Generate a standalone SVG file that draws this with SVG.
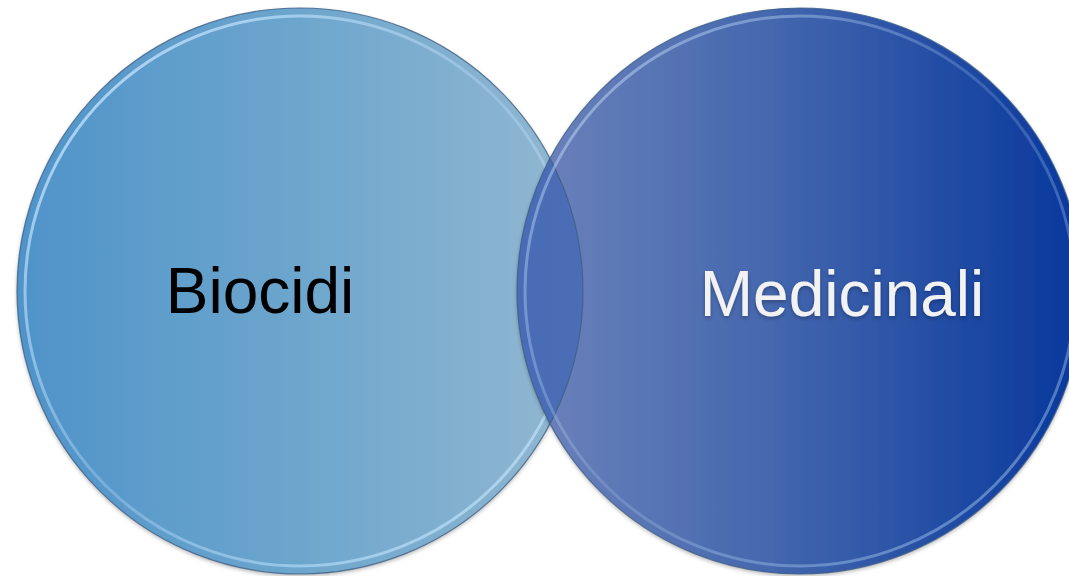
<svg xmlns="http://www.w3.org/2000/svg" width="1069" height="576" viewBox="0 0 1069 576">
<defs>
<linearGradient id="gL" x1="0" y1="0" x2="1" y2="0">
<stop offset="0" stop-color="#4f93c9"/>
<stop offset="0.5" stop-color="#6da6cd"/>
<stop offset="1" stop-color="#93b8d1"/>
</linearGradient>
<linearGradient id="gR" x1="0" y1="0" x2="1" y2="0">
<stop offset="0" stop-color="#6e83bb"/>
<stop offset="0.45" stop-color="#4467ae"/>
<stop offset="1" stop-color="#08379c"/>
</linearGradient>
<linearGradient id="gO" x1="0" y1="0" x2="1" y2="0">
<stop offset="0" stop-color="#3e64b0"/>
<stop offset="1" stop-color="#4a6db6"/>
</linearGradient>
<linearGradient id="rim" x1="0" y1="0" x2="1" y2="1">
<stop offset="0" stop-color="#cfeaff" stop-opacity="0.9"/>
<stop offset="0.5" stop-color="#bfe0ff" stop-opacity="0.3"/>
<stop offset="1" stop-color="#bfe8ff" stop-opacity="0.8"/>
</linearGradient>
<clipPath id="clipR"><circle cx="800" cy="291" r="283"/></clipPath>
<filter id="sh" x="-10%" y="-10%" width="120%" height="120%">
<feGaussianBlur in="SourceAlpha" stdDeviation="2"/>
<feOffset dx="0" dy="2"/>
<feComponentTransfer><feFuncA type="linear" slope="0.3"/></feComponentTransfer>
<feMerge><feMergeNode/><feMergeNode in="SourceGraphic"/></feMerge>
</filter>
</defs>
<style>
.edge{fill:none;stroke:#3d5f86;stroke-width:1.2;stroke-opacity:0.8}
.rim{fill:none;stroke:url(#rim);stroke-width:3}
.lbl{font-family:"Liberation Sans",Arial,sans-serif;font-size:64px;text-anchor:middle}
</style>
<rect width="1069" height="576" fill="#ffffff"/>
<g id="node-biocidi">
<circle cx="300" cy="291" r="283" fill="url(#gL)" filter="url(#sh)"/>
<circle cx="300" cy="291" r="275" class="rim"/>
<circle cx="300" cy="291" r="283" class="edge"/>
<text x="260" y="313" class="lbl" fill="#000000">Biocidi</text>
</g>
<g id="node-medicinali">
<circle cx="800" cy="291" r="283" fill="url(#gR)" filter="url(#sh)"/>
<g clip-path="url(#clipR)">
<circle cx="300" cy="291" r="283" fill="url(#gO)"/>
<circle cx="300" cy="291" r="283" class="edge" stroke="#2d4f86"/>
</g>
<circle cx="800" cy="291" r="275" class="rim" stroke-opacity="0.6"/>
<circle cx="800" cy="291" r="283" class="edge"/>
<text x="842" y="316" class="lbl" fill="#f2f2f2" filter="url(#sh)">Medicinali</text>
</g>
<g id="connectors"/>
</svg>
